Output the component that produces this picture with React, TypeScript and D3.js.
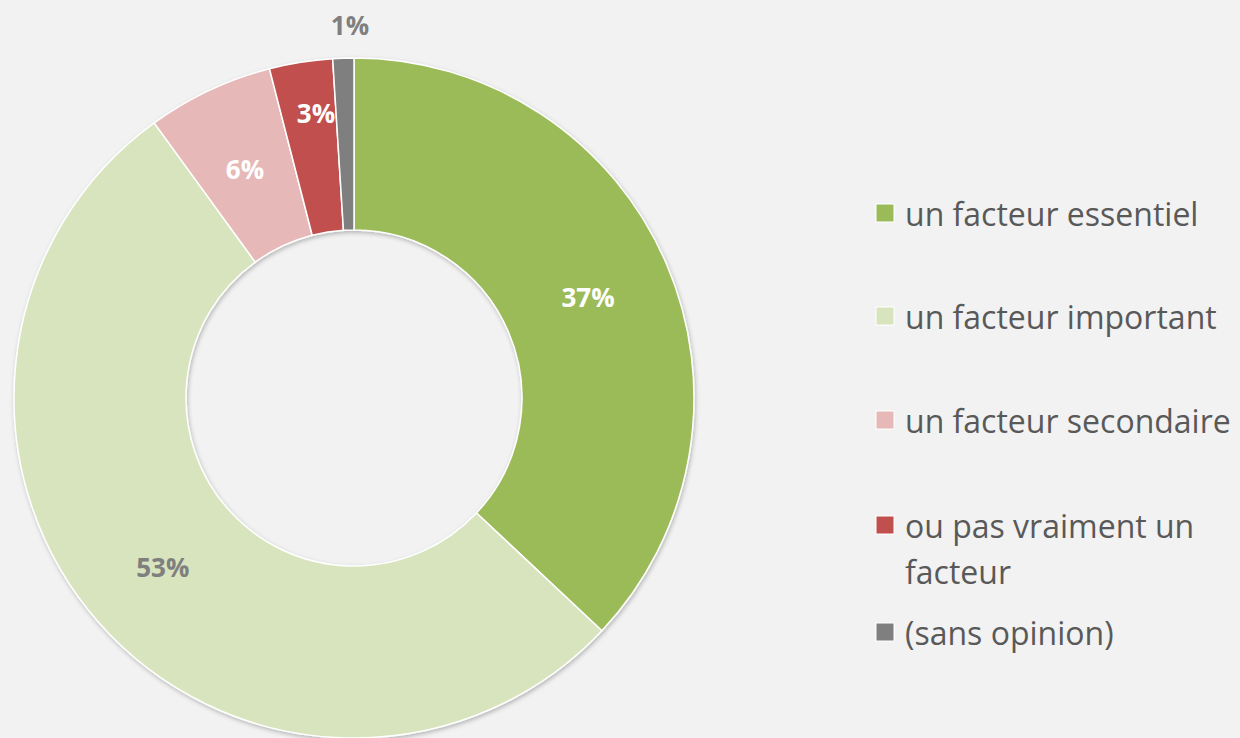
import React from "react";
import * as d3 from "d3";

const categories = [
  "un facteur essentiel",
  "un facteur important",
  "un facteur secondaire",
  "ou pas vraiment un facteur",
  "(sans opinion)",
];
const values = [37, 53, 6, 3, 1];
const labels = ["37%", "53%", "6%", "3%", "1%"];
const colors = ["#9bbb59", "#d7e4bd", "#e6b9b8", "#c0504d", "#7f7f7f"];
const labelColors = ["#ffffff", "#7f7f7f", "#ffffff", "#ffffff", "#7f7f7f"];
const legendLines = [
  ["un facteur essentiel"],
  ["un facteur important"],
  ["un facteur secondaire"],
  ["ou pas vraiment un", "facteur"],
  ["(sans opinion)"],
];

const W = 1240;
const H = 738;
const cx = 354;
const cy = 398;
const outerR = 340;
const innerR = 168;
const font = "'Open Sans', 'Noto Sans', sans-serif";

export default function App() {
  const pie = d3.pie<number>().sort(null).value((d) => d);
  const arcs = pie(values);
  const arc = d3.arc<d3.PieArcDatum<number>>().innerRadius(innerR).outerRadius(outerR);
  const labelArc = d3.arc<d3.PieArcDatum<number>>().innerRadius(255).outerRadius(255);
  const legendY = [213, 316, 420, 525, 632];
  const lineH = 46;

  return (
    <svg width={W} height={H} style={{ position: "absolute", left: 0, top: 0 }}>
      <defs>
        <filter id="sh" x="-10%" y="-10%" width="120%" height="120%">
          <feDropShadow dx="1" dy="2" stdDeviation="2" floodColor="#000" floodOpacity="0.25" />
        </filter>
      </defs>
      <rect width={W} height={H} fill="#f2f2f2" />
      <g transform={`translate(${cx},${cy})`} filter="url(#sh)">
        {arcs.map((a, i) => (
          <path key={i} d={arc(a) || ""} fill={colors[i]} stroke="#ffffff" strokeWidth={1.5} />
        ))}
      </g>
      <g transform={`translate(${cx},${cy})`}>
        {arcs.map((a, i) => {
          let [x, y] = labelArc.centroid(a);
          if (i === 4) {
            x = -4;
            y = -373;
          }
          if (i === 3) {
            x = -38;
            y = -285;
          }
          if (i === 2) {
            x = -109;
            y = -229;
          }
          return (
            <text
              key={i}
              x={x}
              y={y}
              textAnchor="middle"
              dominantBaseline="central"
              fill={labelColors[i]}
              fontFamily={font}
              fontWeight="bold"
              fontSize={26}
            >
              {labels[i]}
            </text>
          );
        })}
      </g>
      <g>
        {categories.map((c, i) => (
          <g key={c}>
            <rect x={876} y={legendY[i] - 9} width={18} height={18} fill={colors[i]} stroke="#ffffff" strokeWidth={1} />
            {legendLines[i].map((ln, j) => (
              <text
                key={j}
                x={905}
                y={legendY[i] + j * lineH}
                dominantBaseline="central"
                fill="#595959"
                fontFamily={font}
                fontSize={32}
              >
                {ln}
              </text>
            ))}
          </g>
        ))}
      </g>
    </svg>
  );
}
